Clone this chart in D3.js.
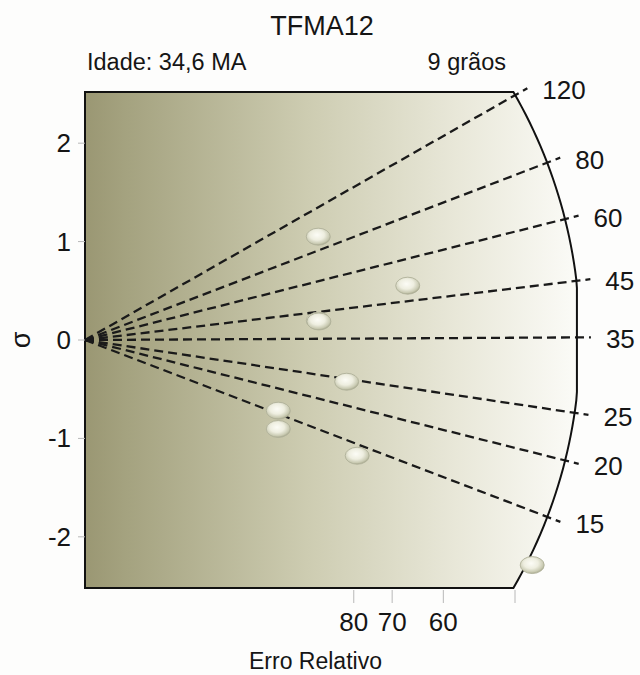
<!DOCTYPE html>
<html>
<head>
<meta charset="utf-8">
<script src="https://cdn.jsdelivr.net/npm/d3@7"></script>
<style>
  html, body { margin: 0; padding: 0; background: #fdfdfc; }
  svg { display: block; }
  text { font-family: "Liberation Sans", Arial, Helvetica, sans-serif; fill: #151515; }
</style>
</head>
<body>
<svg id="chart" width="640" height="675"></svg>
<script>
// Radial (Galbraith) plot of single-grain fission-track ages
const sampleName = "TFMA12";
const centralAge = 34.6;          // Ma
const grainCount = 9;

// age scale drawn on the arc (Ma)
const ageTicks = [15, 20, 25, 35, 45, 60, 80, 120];
// relative error axis (%), labelled ticks along the bottom
const errTicks = [80, 70, 60, 50];
const errTickLabels = ["80", "70", "60", ""];
// standardised estimate axis
const sigmaTicks = [-2, -1, 0, 1, 2];

// grains: precision (1/σ) and standardised estimate
const grainPrecision = [1.085, 1.501, 1.085, 1.088, 1.217, 0.899, 0.899, 1.266, 2.080];
const grainSigma     = [1.050, 0.552, 0.196, 0.188, -0.424, -0.718, -0.904, -1.176, -2.287];

const svg = d3.select("#chart");

const x = d3.scaleLinear().domain([0, 2.3]).range([85, 85 + 2.3 * 215]);
const y = d3.scaleLinear().domain([-2.52, 2.52]).range([588, 92]);

const ox = x(0), oy = y(0);
const R = 495;              // arc radius in screen units
const xClip = x(2.288);     // arc flattens at this precision

const defs = svg.append("defs");
const bg = defs.append("linearGradient").attr("id", "bgGrad")
  .attr("gradientUnits", "userSpaceOnUse")
  .attr("x1", x(0)).attr("x2", xClip).attr("y1", 0).attr("y2", 0);
[[0, "#9a9773"], [0.08, "#a4a27f"], [0.45, "#cdccb1"], [0.75, "#e8e7d8"], [1, "#fbfbf7"]]
  .forEach(([o, c]) => bg.append("stop").attr("offset", o).attr("stop-color", c));

const pt = defs.append("radialGradient").attr("id", "ptGrad")
  .attr("cx", "45%").attr("cy", "40%").attr("r", "60%");
[[0, "#fcfcf6"], [0.5, "#eeeee0"], [0.85, "#c9cab2"], [1, "#a8a98e"]]
  .forEach(([o, c]) => pt.append("stop").attr("offset", o).attr("stop-color", c));

// plot region: box closed on the right by the age arc
const thetaTop = Math.asin((y(2.52) - oy) / R);
const thetaBot = Math.asin((y(-2.52) - oy) / R);
const arcPts = d3.range(0, 61).map(i => {
  const t = thetaTop + (thetaBot - thetaTop) * i / 60;
  return [Math.min(ox + R * Math.cos(t), xClip), oy + R * Math.sin(t)];
});
const regionPts = [[x(0), y(2.52)], ...arcPts, [x(0), y(-2.52)]];

svg.append("path")
  .attr("d", d3.line()(regionPts) + "Z")
  .attr("fill", "url(#bgGrad)");

// age rays
function rayDir(age) {
  const s = Math.log(age / centralAge);
  const dx = x(1) - x(0), dy = y(s) - y(0);
  const n = Math.hypot(dx, dy);
  return [dx / n, dy / n];
}
const rays = ageTicks.map(age => {
  const [ux, uy] = rayDir(age);
  let r = R;
  if (ox + R * ux > xClip) r = (xClip - ox) / ux;
  const px = ox + r * ux, py = oy + r * uy;
  const ex = px + 14 * ux, ey = py + 14 * uy;
  return { age, ex, ey };
});

svg.append("g").selectAll("line").data(rays).join("line")
  .attr("x1", ox).attr("y1", oy)
  .attr("x2", d => d.ex).attr("y2", d => d.ey)
  .attr("stroke", "#1a1a1a").attr("stroke-width", 2.3)
  .attr("stroke-dasharray", "9,5");

svg.append("g").selectAll("text").data(rays).join("text")
  .attr("x", d => d.ex + 15).attr("y", d => d.ey + 2)
  .attr("dominant-baseline", "central")
  .attr("font-size", 26)
  .text(d => d.age);

// outline of box and arc
svg.append("path")
  .attr("d", d3.line()(regionPts) + "Z")
  .attr("fill", "none").attr("stroke", "#111").attr("stroke-width", 2)
  .attr("stroke-linejoin", "miter");

// grains
svg.append("g").selectAll("ellipse")
  .data(grainPrecision.map((p, i) => [p, grainSigma[i]]))
  .join("ellipse")
  .attr("cx", d => x(d[0])).attr("cy", d => y(d[1]))
  .attr("rx", 12).attr("ry", 8.5)
  .attr("fill", "url(#ptGrad)")
  .attr("stroke", "#b0b19a").attr("stroke-width", 0.9);

// sigma axis
const yAxis = svg.append("g");
yAxis.selectAll("line").data(sigmaTicks).join("line")
  .attr("x1", x(0) - 7).attr("x2", x(0))
  .attr("y1", d => y(d)).attr("y2", d => y(d))
  .attr("stroke", "#b8b8b8").attr("stroke-width", 1);
yAxis.selectAll("text").data(sigmaTicks).join("text")
  .attr("x", x(0) - 14).attr("y", d => y(d))
  .attr("text-anchor", "end").attr("dominant-baseline", "central")
  .attr("font-size", 26)
  .text(d => d);
svg.append("text")
  .attr("transform", `translate(21,${oy}) rotate(-90)`)
  .attr("text-anchor", "middle").attr("dominant-baseline", "central")
  .attr("font-size", 27)
  .text("σ");

// relative error axis
const xAxis = svg.append("g");
xAxis.selectAll("line").data(errTicks).join("line")
  .attr("x1", d => x(100 / d)).attr("x2", d => x(100 / d))
  .attr("y1", 590).attr("y2", 603)
  .attr("stroke", "#b8b8b8").attr("stroke-width", 1);
xAxis.selectAll("text").data(errTicks).join("text")
  .attr("x", d => x(100 / d)).attr("y", 631)
  .attr("text-anchor", "middle")
  .attr("font-size", 26)
  .text((d, i) => errTickLabels[i]);
svg.append("text")
  .attr("x", 249).attr("y", 669)
  .attr("font-size", 23)
  .text("Erro Relativo");

// headings
svg.append("text")
  .attr("x", 322).attr("y", 35)
  .attr("text-anchor", "middle")
  .attr("font-size", 27)
  .text(sampleName);
svg.append("text")
  .attr("x", 87).attr("y", 70)
  .attr("font-size", 23.5)
  .text("Idade: " + String(centralAge).replace(".", ",") + " MA");
svg.append("text")
  .attr("x", 506).attr("y", 70)
  .attr("text-anchor", "end")
  .attr("font-size", 23.5)
  .text(grainCount + " grãos");
</script>
</body>
</html>
